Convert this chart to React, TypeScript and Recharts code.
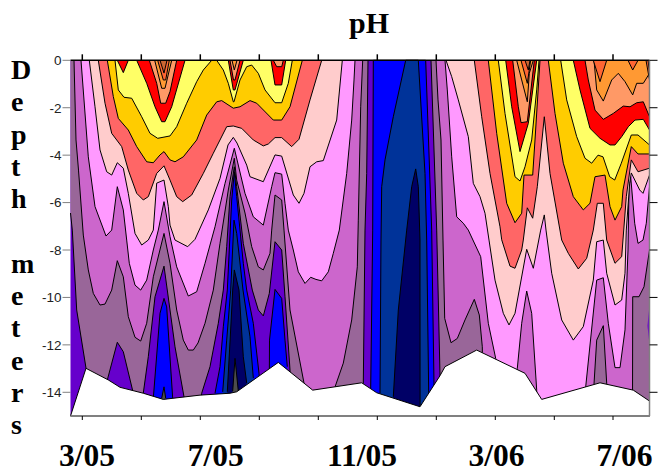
import React from "react";
import { AreaChart, Area, XAxis, YAxis } from "recharts";

type P = number[][];
const LAST_DAY = 579;
const BOTTOM = -15;

const monthTicks = [11.8, 70.8, 129.8, 188.8, 247.8, 306.8, 365.8, 424.8, 483.8, 542.5];
const depthTicks = [0, -2, -4, -6, -8, -10, -12, -14];
const dateLabelDays = [16.5, 145.3, 291.5, 426, 554];
const dateLabels = ["3/05", "7/05", "11/05", "3/06", "7/06"];
const axisLetters = ["D", "e", "p", "t", "h", "", "m", "e", "t", "e", "r", "s"];

const seabed: P = [[0,-15],[15.5,-12.99],[37.8,-13.48],[49.5,-13.79],[72.8,-14.04],[92.8,-14.3],[129.5,-14.12],[159.5,-14.04],[166.2,-13.98],[207.8,-12.74],[242.2,-13.91],[291.2,-13.6],[306.2,-14.02],[349.5,-14.61],[369.5,-13.3],[374.5,-12.92],[406.2,-12.22],[454.5,-13.2],[471.2,-14.3],[529.5,-13.6],[562.8,-13.91],[579,-14.37]];

const violetBase: P = [[0,BOTTOM],[LAST_DAY,BOTTOM]];
const blueBand: P = [[299.5,-15],[300.2,-13.82],[302.2,-7.16],[302.8,0],[355.2,0],[361.2,-7.16],[363.5,-13.65],[364,-15]];
const deepBand: P = [[309.5,-14.04],[310.5,-7.58],[311.2,-5.33],[314.5,-4.2],[322.8,-2.38],[335.2,0],[347.8,0],[354.5,-4.77],[356.2,-7.58],[358.2,-14.02]];
const navyBand: P = [[322.8,-14.19],[327.8,-10.53],[336.2,-7.16],[341.2,-5.33],[345.2,-4.58],[347.8,-5.33],[349.5,-7.58],[349.6,-15]];
const blueA: P = [[82.8,-14.25],[89.5,-10.67],[93.5,-10.04],[96.2,-10.4],[102.2,-14.25]];
const greyA: P = [[91.2,-14.25],[93.5,-13.77],[95.2,-14.25]];
const blueB: P = [[144.5,-14.04],[149.5,-12.92],[152.8,-11.24],[156.8,-9.69],[161.2,-5.89],[163.8,-4.7],[166.2,-5.75],[172.8,-8.56],[176.2,-9.69],[182.8,-11.09],[188.5,-13.2],[190,-14]];
const deepB: P = [[152.2,-13.98],[156.2,-11.8],[160.2,-9.69],[163.5,-6.74],[166.2,-7.3],[172.5,-9.69],[179.5,-11.66],[182.8,-13.4]];
const navyB: P = [[156.8,-13.98],[160.5,-11.08],[162.2,-9.69],[163.8,-8.84],[168.5,-9.69],[172.8,-12.5],[176.2,-13.61]];
const greyB: P = [[162.2,-13.95],[164.5,-12.57],[167.8,-13.95]];
const blueC: P = [[198.8,-13.5],[199,-11.8],[204.5,-9.66],[211.2,-10.04],[214.5,-11.8],[216.8,-12.92]];

const mauveA: P = [[0,-6.44],[1.8,-7.16],[6.2,-10.53],[15.5,-12.98],[16.5,-15],[34.5,-15],[36.8,-13.48],[46.8,-11.89],[52.8,-12.29],[62.2,-13.93],[62.5,-15],[72,-15],[72.8,-14.03],[77.8,-12.5],[84.5,-9.97],[93.5,-8.68],[99.5,-10.53],[104.5,-12.08],[113.5,-14.19],[114.5,-15],[128.5,-15],[131.2,-14.04],[139.5,-12.92],[147.8,-11.09],[152.8,-9.69],[156.2,-7.86],[159.5,-5.75],[161.8,-5.05],[163.8,-4.49],[166.2,-5.33],[172.8,-7.72],[181.8,-9.69],[187.8,-10.53],[192.8,-10.78],[198.8,-9.83],[204.5,-7.65],[211.2,-8],[214.5,-9.97],[219.5,-13.06],[220.5,-15],[291.5,-15],[292.8,-13.62],[294.5,-7.16],[296.2,-4.77],[297.5,0]];
const mauveB: P = [[360.5,0],[366.2,-7.16],[369.5,-13.27],[370.5,-15],[579,-15]];
const orchidA: P = [[3.5,0],[5.5,-3.36],[8,-4.63],[12.8,-7.37],[17.8,-8.84],[22.8,-9.83],[29.5,-10.32],[34.5,-10.28],[41.2,-9.69],[46.8,-8.45],[52.8,-9.13],[57.8,-10.81],[64.5,-11.68],[70.2,-11.84],[76.2,-11.09],[82.8,-9.13],[93.5,-7.3],[99.5,-8.56],[106.2,-10.53],[112.8,-11.8],[117.8,-12.22],[122.8,-12.22],[127.5,-11.92],[134.5,-11.09],[142.8,-9.69],[149.5,-7.72],[157.8,-5.47],[163.8,-4.13],[166.2,-5.05],[174.5,-6.44],[181.2,-7.86],[187.8,-8.71],[192.8,-8.84],[199.5,-8.14],[201.2,-7.16],[204.5,-5.68],[211.2,-5.89],[213.5,-7.16],[219.5,-10.53],[233.5,-13.61],[234.5,-15],[263.5,-15],[264.8,-13.74],[272.8,-12.77],[281.2,-10.95],[286.8,-8.71],[287.8,-6.74],[290.2,-1.96],[292.2,0]];
const orchidB: P = [[365.5,0],[367.5,-1.67],[370.5,-3.36],[372.5,-7.58],[374.2,-10.88],[380.5,-11.91],[386.8,-11.73],[394.5,-10.95],[403.8,-10.08],[408.8,-10.74],[411.8,-12.08],[412.5,-15],[522.5,-15],[523.5,-13.65],[526.2,-11.8],[532.8,-11.19],[536.2,-13.62],[536.5,-15],[562,-15],[562.2,-9.97],[568.5,-9.97],[573.5,-9.55],[579,-8]];
const pinkA: P = [[10.5,0],[17.8,-4.07],[24.5,-6.17],[35.5,-7.41],[41.2,-7.16],[46.8,-5.33],[52.8,-6.31],[56.2,-7.58],[58.8,-8.56],[64.5,-9.48],[70.2,-9.69],[76.2,-9.27],[82.8,-8],[87.8,-7.16],[93.5,-5.96],[99.5,-7.44],[106.2,-8.71],[117.8,-9.94],[126.2,-9.76],[134.5,-8.56],[144.5,-7.02],[154.5,-5.19],[163.8,-3.71],[174.5,-5.61],[182.8,-6.6],[192.8,-6.95],[201.2,-5.33],[204.5,-4.74],[211.2,-4.8],[214.5,-6.03],[217.8,-7.16],[222.8,-8],[227.8,-8.92],[234.5,-9.41],[240.2,-9.15],[245.5,-9.24],[251.2,-9.3],[257.8,-8.92],[262.8,-8.14],[268.8,-7.16],[276.2,-4.77],[281.2,-2.52],[283.5,-0.83],[284.5,0]];
const pinkB: P = [[374.5,0],[376.8,-1.25],[381.2,-4.07],[386.2,-6.6],[392.8,-6.87],[397.8,-7.16],[410.2,-8.28],[417.8,-11.09],[425.2,-12.57],[425.5,-15],[446.2,-15],[446.8,-12.99],[451.2,-11.09],[456.2,-9.73],[461.2,-10.67],[466.2,-13.9],[466.5,-15],[514.5,-15],[515.2,-13.77],[526.2,-9.27],[532.8,-9.17],[537.8,-11.09],[544.5,-12.96],[549.5,-12.96],[554.5,-11.37],[557.5,-8],[558.5,-5.33],[560.2,-4.91],[564.2,-6.87],[567.5,-7.72],[572.5,-7.58],[575.8,-6.87],[579,-5.33]];
const blushA: P = [[18.8,0],[24.5,-1.96],[29.5,-3.78],[36.2,-4.7],[41.2,-4.84],[46.8,-4.32],[52.8,-4.55],[57.8,-5.61],[64.5,-7.3],[71.2,-7.79],[77.8,-7.58],[82.8,-7.16],[86.2,-5.18],[93.5,-5.05],[97.8,-6.17],[99.5,-6.95],[104.5,-7.58],[117.2,-7.86],[124.5,-7.55],[137.8,-6.31],[149.5,-4.98],[157.5,-3.57],[162.8,-3.25],[166.5,-3.49],[176.2,-4.42],[179.5,-4.91],[192.8,-5.12],[204.5,-3.99],[211.2,-4.04],[222.8,-5.68],[228.5,-6.03],[233.5,-5.61],[239.5,-4.49],[246.2,-4.28],[252.8,-4.23],[266.2,-2.52],[271.8,0]];
const blushB: P = [[375.5,0],[381.2,-0.69],[387.8,-1.67],[397.8,-3.22],[402.8,-5.19],[409.5,-5.75],[414.5,-6.45],[418.5,-7.58],[424.5,-9.27],[432.8,-10.67],[438.5,-11.16],[444.5,-10.67],[456.2,-7.97],[462.8,-8.77],[470.2,-7.16],[473.8,-6.52],[475.5,-7.16],[481.2,-8.98],[491.2,-10.95],[502.8,-11.8],[512.8,-11.23],[522.8,-9.27],[526.2,-7.65],[532.8,-7.58],[536.2,-8.98],[544.5,-10.32],[551.2,-10.11],[554.5,-8.98],[555.8,-7.16],[559.2,-5.18],[560.8,-4.75],[569.2,-5.47],[572.5,-5.61],[579,-4.84]];
const coralA: P = [[27.8,0],[34.5,-1.81],[41.2,-3.08],[51.2,-3.64],[57.8,-4.63],[66.2,-5.61],[72.8,-5.89],[77.8,-5.75],[86.2,-4.77],[93.5,-4.45],[99.5,-5.05],[106.2,-5.75],[112.2,-5.96],[121.2,-5.68],[132.8,-4.77],[142.8,-3.92],[156.2,-2.8],[162.8,-2.77],[171.2,-2.87],[182.8,-3.36],[192.8,-3.61],[197.8,-3.53],[204.5,-3.26],[211.2,-3.26],[221.2,-3.64],[228.5,-3.33],[239.5,-1.67],[251.2,0]];
const coralB: P = [[403.8,0],[411.2,-2.38],[419.5,-4.77],[429.5,-7.02],[431.2,-7.57],[439.5,-8.68],[444.5,-8.77],[451.2,-8],[452.8,-7.58],[456.8,-6.22],[462.2,-6.66],[466.8,-5.33],[473.8,-2.38],[479.5,-4.77],[491.2,-7.58],[497.8,-8.14],[507.8,-8.8],[516.2,-8.35],[522.8,-7.16],[526.8,-6.03],[532.8,-6.03],[536.2,-7.58],[544.5,-8.56],[551.2,-8.28],[555.8,-5.75],[560.8,-4.2],[567.5,-4.7],[579,-4.55]];
const goldA: P = [[36.8,0],[42.8,-1.53],[47.8,-2.45],[57.8,-2.94],[66.2,-3.64],[76.2,-4.28],[82.8,-4.32],[89.5,-3.99],[93.5,-3.85],[99.5,-4.2],[104.5,-4.28],[112.8,-4.07],[126.2,-3.36],[136.2,-2.31],[146.2,-1.75],[151.2,-1.7],[162.8,-2.02],[169.5,-1.96],[179.5,-1.7],[186.2,-1.81],[202.8,-2.52],[211.2,-2.52],[219.5,-1.96],[231.8,0]];
const goldB: P = [[417.8,0],[426.2,-3.08],[436.2,-6.03],[444.5,-6.85],[451.2,-6.45],[453.5,-4.84],[462.2,-4.84],[464.5,-3.36],[469.5,0]];
const goldC: P = [[477.8,0],[484.5,-2.24],[492.8,-4.34],[502.8,-5.75],[512.8,-6.31],[519.5,-6.03],[524.5,-4.91],[534.5,-4.84],[539.5,-6.17],[544.5,-6.74],[551.2,-6.17],[552.5,-5.47],[560.8,-3.64],[567.5,-3.95],[579,-3.95]];
const yellowA: P = [[44.5,0],[47.8,-1.25],[53.5,-1.56],[61.2,-1.6],[71.2,-2.38],[79.5,-3.08],[87.2,-3.29],[99.5,-3.19],[106.2,-2.8],[116.2,-1.81],[126.2,-0.9],[132.8,-0.41],[141.2,0]];
const yellowB: P = [[146.2,0],[152.8,-0.41],[157.8,-0.97],[162.8,-1.75],[163.5,-1.75],[169.5,-0.83],[176.2,-0.27],[181.2,-0.2],[187.8,-0.55],[194.5,-1.25],[204.5,-1.79],[211.2,-1.79],[217.8,-0.97],[221.8,0]];
const yellowC: P = [[427.8,0],[434.5,-2.24],[444.5,-4.91],[449.5,-5.09],[454.5,-4.49],[461.2,-3.36],[466.2,-1.25],[468.5,0]];
const yellowD: P = [[490.2,0],[496.2,-1.67],[506.2,-3.22],[514.5,-4.13],[521.2,-4.34],[527.5,-4],[532.5,-4.07],[539.2,-4.91],[544.2,-5.05],[550.8,-4.34],[560.8,-3.15],[567.5,-3.15],[579,-3.57]];
const redA: P = [[46.8,0],[52.8,-0.52],[57.8,0]];
const redB: P = [[66.2,0],[76.2,-0.97],[84.5,-1.96],[91.2,-2.59],[94.5,-2.59],[101.2,-1.96],[114.5,0]];
const redC: P = [[157.8,0],[162.8,-1.25],[164.5,-1.25],[172.8,0]];
const redD: P = [[200.5,0],[204.5,-1.04],[211.2,-1.04],[215.2,0]];
const redE: P = [[435.2,0],[441.2,-1.96],[449.5,-3.85],[457.8,-2.66],[466.2,0]];
const redF: P = [[502.8,0],[509.5,-1.25],[519.5,-2.87],[529.5,-3.29],[539.5,-3.57],[544.5,-3.57],[551.2,-3.22],[557.8,-2.8],[564.5,-2.52],[572.8,-2.49],[579,-2.94]];
const apricotA: P = [[78.8,0],[86.2,-0.97],[90.2,-1.81],[95.2,-1.81],[99.5,-1.32],[106.2,0]];
const apricotB: P = [[159.5,0],[163,-0.83],[164.5,-0.83],[169.5,0]];
const apricotC: P = [[202.8,0],[206.2,-0.27],[211.2,-0.27],[212.8,0]];
const apricotD: P = [[442.2,0],[447.8,-1.96],[450.5,-2.63],[456.8,-2.59],[463.8,0]];
const apricotE: P = [[514.5,0],[517.8,-0.83],[524.5,-2.1],[532.8,-2.49],[542.8,-2.24],[552.8,-1.93],[559.5,-1.96],[566.2,-1.79],[572.8,-1.75],[579,-2.38]];
const orangeA: P = [[84.2,0],[91.2,-1.18],[94.5,-1.18],[101.2,0]];
const orangeB: P = [[161.5,0],[163.8,-0.41],[166.5,0]];
const orangeC: P = [[446.2,0],[451.2,-0.83],[456.8,-1.75],[458.8,-0.55],[462.8,0]];
const orangeD: P = [[523.5,0],[526.2,-1.25],[532.8,-1.72],[541.2,-0.83],[547.8,-0.55],[554.5,-0.9],[562.2,-1.46],[566.2,-0.97],[572.8,-0.97],[579,-0.55]];
const emberA: P = [[87.2,0],[92.8,-0.83],[95.2,-0.83],[98.8,0]];
const emberB: P = [[450.5,0],[456.8,-0.97],[460.2,0]];
const emberC: P = [[522.8,0],[529.5,-0.9],[536.2,0]];
const emberD: P = [[557.5,0],[562.2,-0.41],[567.5,0]];
const emberE: P = [[575.5,0],[579,-0.83]];
const brownA: P = [[89.5,0],[93.5,-0.54],[96.5,0]];
const brownB: P = [[454.5,0],[457.8,-0.41],[459.5,0]];
const brownC: P = [[577.5,0],[579,-0.5]];
const rightBlip: P = [[577,-11.2],[579,-10.3]];

const toRows = (p: P) => p.map(([day, depth]) => ({ day, depth }));
const rising = (r: { depth: number }) => [BOTTOM, r.depth];
const blipRange = (r: { day: number; depth: number }) => [r.day < 578 ? -11.2 : -12, r.depth];

const C = {
  violet: "#6600cc", blue: "#0000ff", deep: "#003399", navy: "#000066", grey: "#4d4d4d",
  mauve: "#996699", orchid: "#cc66cc", pink: "#ff99ff", blush: "#ffcccc", coral: "#ff6666",
  gold: "#ffcc00", yellow: "#ffff66", red: "#ff0000", apricot: "#ff9966", orange: "#ff9933",
  ember: "#ff6633", brown: "#cc6633",
};

const risingLayers: [P, string][] = [
  [blueBand, C.blue], [deepBand, C.deep], [navyBand, C.navy],
  [blueA, C.blue], [greyA, C.grey],
  [blueB, C.blue], [deepB, C.deep], [navyB, C.navy], [greyB, C.grey],
  [blueC, C.blue],
];
const hangingLayers: [P, string][] = [
  [mauveA, C.mauve], [mauveB, C.mauve], [orchidA, C.orchid], [orchidB, C.orchid],
  [pinkA, C.pink], [pinkB, C.pink], [blushA, C.blush], [blushB, C.blush],
  [coralA, C.coral], [coralB, C.coral], [goldA, C.gold], [goldB, C.gold], [goldC, C.gold],
  [yellowA, C.yellow], [yellowB, C.yellow], [yellowC, C.yellow], [yellowD, C.yellow],
  [redA, C.red], [redB, C.red], [redC, C.red], [redD, C.red], [redE, C.red], [redF, C.red],
  [apricotA, C.apricot], [apricotB, C.apricot], [apricotC, C.apricot], [apricotD, C.apricot], [apricotE, C.apricot],
  [orangeA, C.orange], [orangeB, C.orange], [orangeC, C.orange], [orangeD, C.orange],
  [emberA, C.ember], [emberB, C.ember], [emberC, C.ember], [emberD, C.ember], [emberE, C.ember],
  [brownA, C.brown], [brownB, C.brown], [brownC, C.brown],
];

const serif = "'Liberation Serif', 'Times New Roman', serif";
const GREY = "#808080";
const common = { type: "linear" as const, isAnimationActive: false, dot: false, activeDot: false };
const NoLabel = () => <g />;

export default function App() {
  return (
    <div style={{ position: "absolute", left: 0, top: 0, width: 658, height: 471, background: "#fff" }}>
      <AreaChart width={658} height={471} margin={{ top: 54.3, right: 0, bottom: 0, left: 0 }}>
        <Area {...common} data={toRows(violetBase)} dataKey="depth" fill={C.violet} fillOpacity={1} stroke="none" />
        {risingLayers.map(([p, color], i) => (
          <Area key={"r" + i} {...common} data={toRows(p)} dataKey={rising} fill={color} fillOpacity={1} stroke="#000" strokeWidth={1} />
        ))}
        {hangingLayers.map(([p, color], i) => (
          <Area key={"h" + i} {...common} data={toRows(p)} dataKey="depth" fill={color} fillOpacity={1} stroke="#000" strokeWidth={1} />
        ))}
        <Area {...common} data={toRows(rightBlip)} dataKey={blipRange} fill={C.violet} fillOpacity={1} stroke="none" />
        <Area {...common} data={toRows(seabed)} dataKey={rising} fill="#fff" fillOpacity={1} stroke="#000" strokeWidth={1} />
        <Area {...common} xAxisId="top" yAxisId="right" data={toRows(violetBase)} dataKey="depth" fill="none" stroke="none" />
        <Area {...common} xAxisId="dates" yAxisId="right" data={toRows(violetBase)} dataKey="depth" fill="none" stroke="none" />

        <XAxis dataKey="day" type="number" domain={[0, LAST_DAY]} ticks={monthTicks} interval={0} height={5} tick={NoLabel} tickSize={4} stroke={GREY} strokeWidth={2} tickLine={{ stroke: "#000", strokeWidth: 1 }} />
        <XAxis xAxisId="dates" dataKey="day" type="number" domain={[0, LAST_DAY]} ticks={dateLabelDays} interval={0} height={50} axisLine={false} tickLine={false} tickMargin={17}
          tickFormatter={(v: number) => dateLabels[dateLabelDays.indexOf(v)]}
          tick={{ fontFamily: serif, fontWeight: 700, fontSize: 31.5, fill: "#000" }} />
        <XAxis xAxisId="top" orientation="top" dataKey="day" type="number" domain={[0, LAST_DAY]} ticks={monthTicks} interval={0} height={6} tick={NoLabel} tickSize={6} stroke="#000" strokeWidth={1.5} />
        <YAxis type="number" domain={[BOTTOM, 0]} ticks={depthTicks} interval={0} width={70.5} axisLine={false} tickSize={8} tickMargin={1} stroke={GREY}
          tick={{ fontFamily: "'Liberation Sans', Arial, sans-serif", fontSize: 13.5, fill: "#222" }} />
        <YAxis yAxisId="right" orientation="right" type="number" domain={[BOTTOM, 0]} ticks={depthTicks} interval={0} width={8.5} tick={NoLabel} tickSize={8} stroke={GREY} strokeWidth={1.5} tickLine={{ stroke: "#000", strokeWidth: 1 }} />
      </AreaChart>

      <div style={{ position: "absolute", left: 349, top: 6, fontFamily: serif, fontWeight: 700, fontSize: 30, lineHeight: "34px", color: "#000" }}>pH</div>
      {axisLetters.map((letter, i) => (
        <div key={i} style={{ position: "absolute", left: 11, top: 54 + i * 32.3, fontFamily: serif, fontWeight: 700, fontSize: 28, lineHeight: "32px", color: "#000" }}>{letter}</div>
      ))}
    </div>
  );
}
